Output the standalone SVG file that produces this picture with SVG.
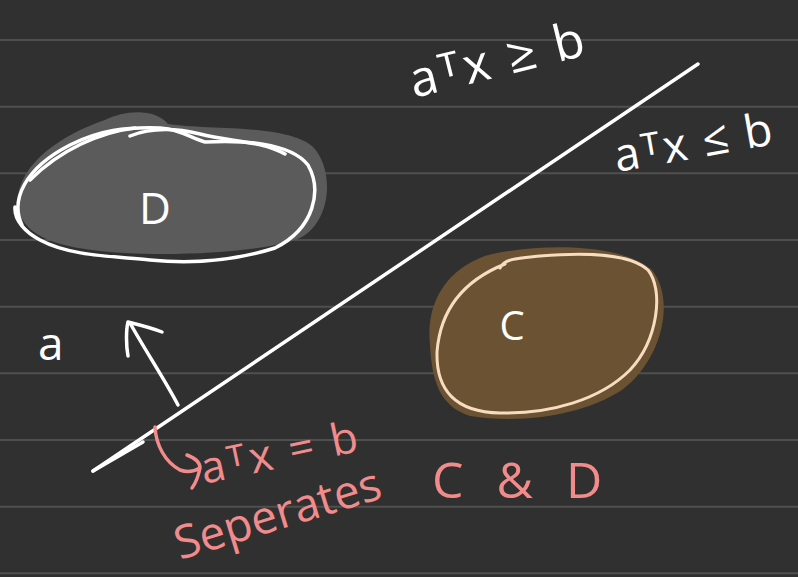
<svg xmlns="http://www.w3.org/2000/svg" width="798" height="577" viewBox="0 0 798 577">
<style>
.rule{stroke:#4f4f4f;stroke-width:2}
.w{fill:none;stroke:#ffffff;stroke-width:3.5;stroke-linecap:round;stroke-linejoin:round}
.p{fill:none;stroke:#f28b8b;stroke-width:3.5;stroke-linecap:round;stroke-linejoin:round}
.tw{fill:#ffffff;font-family:"Open Sans","Liberation Sans",sans-serif}
.tp{fill:#f28b8b;font-family:"Open Sans","Liberation Sans",sans-serif}
</style>
<rect width="798" height="577" fill="#303030"/>
<g id="rules">
<line class="rule" x1="0" y1="40" x2="798" y2="40"/>
<line class="rule" x1="0" y1="106.7" x2="798" y2="106.7"/>
<line class="rule" x1="0" y1="173.3" x2="798" y2="173.3"/>
<line class="rule" x1="0" y1="240" x2="798" y2="240"/>
<line class="rule" x1="0" y1="306.7" x2="798" y2="306.7"/>
<line class="rule" x1="0" y1="373.3" x2="798" y2="373.3"/>
<line class="rule" x1="0" y1="440" x2="798" y2="440"/>
<line class="rule" x1="0" y1="506.7" x2="798" y2="506.7"/>
<line class="rule" x1="0" y1="573.3" x2="798" y2="573.3"/>
</g>
<g id="setD">
<path d="M 18,195 C 25,155 75,130 105,120 C 125,110 155,108 168,124 C 205,130 285,124 312,146 C 335,168 332,222 300,238 C 262,254 150,258 92,250 C 42,244 14,228 18,195 Z" fill="#5b5b5b"/>
<path class="w" d="M 22,225 C 10,200 25,168 70,145 C 100,130 125,127 160,128 C 180,129 190,138 205,142 C 240,140 290,142 308,165 C 322,190 315,228 275,248 C 230,262 190,264 150,260 C 110,256 70,256 40,240 C 25,232 14,220 15,207"/>
<path class="w" stroke-width="2.5" d="M 30,180 C 60,150 100,132 135,128 M 130,136 C 150,128 175,128 200,134 C 230,142 260,140 285,154"/>
<text class="tw" x="155" y="224" font-size="44" text-anchor="middle">D</text>
</g>
<g id="setC">
<path d="M 430,345 C 425,300 450,265 492,254 C 545,243 622,244 652,270 C 676,300 662,360 622,390 C 582,416 520,424 470,416 C 440,406 432,382 430,345 Z" fill="#6b5232"/>
<path d="M 500,268 C 505,258 520,258 540,256 C 590,252 630,254 648,270 C 664,290 658,340 630,370 C 600,400 550,414 500,413 C 455,412 436,390 437,352 C 440,312 460,282 505,264" fill="none" stroke="#f8dcc0" stroke-width="3" stroke-linecap="round"/>
<text class="tw" x="512" y="340" font-size="40" text-anchor="middle">C</text>
</g>
<g id="connectors">
<path class="w" stroke-width="3" d="M 93,471 L 698,64"/>
<path class="w" stroke-width="2.5" d="M 93,471 L 143,442"/>
<path class="w" d="M 178,405 C 165,380 145,350 130,323 M 128,356 C 126,345 126,330 128,322 C 140,325 152,328 162,332"/>
<path class="p" d="M 155,427 C 156,445 165,462 180,470 C 188,473 195,471 200,468 M 187,455 C 195,458 200,463 200,468 C 198,478 195,484 192,488"/>
</g>
<g id="labels">
<text class="tw" font-size="50" letter-spacing="3" transform="translate(414,98) rotate(-14)">aᵀx ≥ b</text>
<text class="tw" font-size="46" letter-spacing="2" transform="translate(617,172) rotate(-10)">aᵀx ≤ b</text>
<text class="tw" font-size="46" x="38" y="360">a</text>
<text class="tp" font-size="44" letter-spacing="3" transform="translate(204,484) rotate(-12)">aᵀx = b</text>
<text class="tp" font-size="46" transform="translate(180,560) rotate(-17)">Seperates</text>
<text class="tp" font-size="50" letter-spacing="10" x="432" y="498">C &amp; D</text>
</g>
</svg>
